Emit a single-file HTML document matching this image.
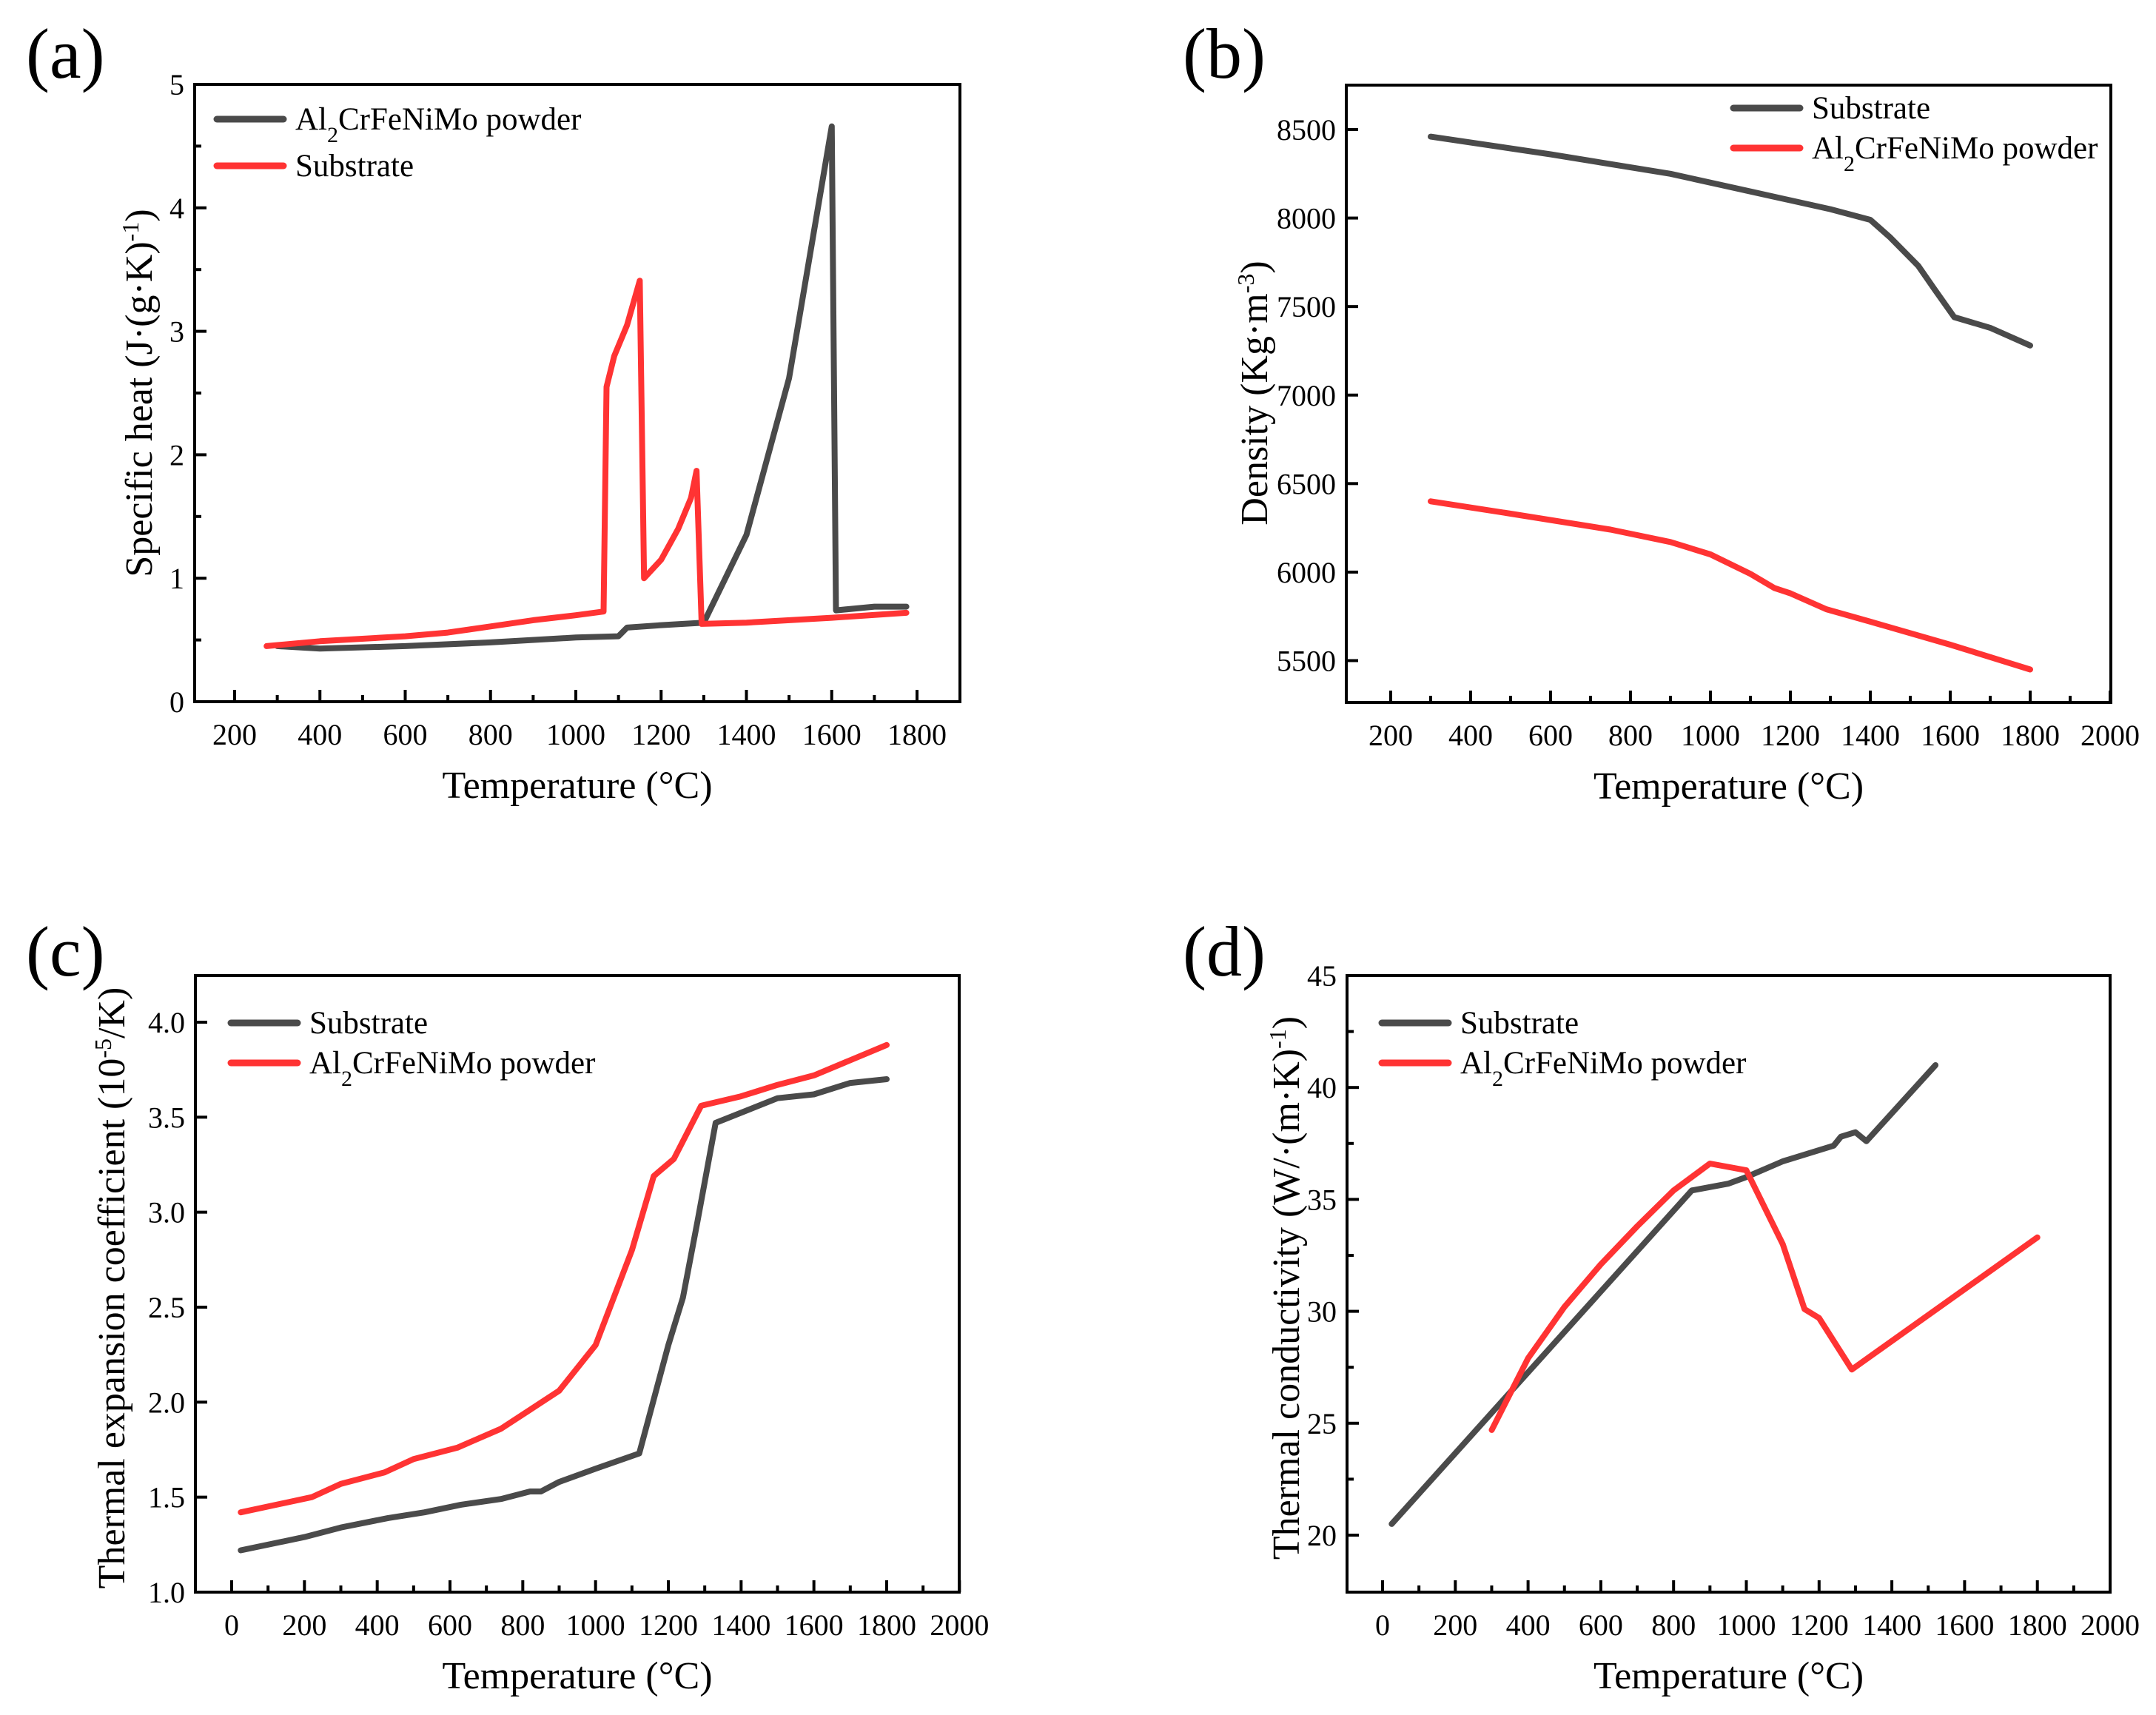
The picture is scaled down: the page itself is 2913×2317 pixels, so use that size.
<!DOCTYPE html>
<html><head><meta charset="utf-8"><style>
html,body{margin:0;padding:0;background:#fff;}
svg{display:block;font-family:"Liberation Serif",serif;}
</style></head><body>
<svg id="fig" width="2913" height="2317" viewBox="0 0 2913 2317" xmlns="http://www.w3.org/2000/svg"></svg>
<script>
// ---- data ----
const aPowderT=[300,400,600,800,1000,1100,1120,1200,1300,1400,1500,1600,1610,1700,1775];
const aPowderV=[0.45,0.43,0.45,0.48,0.52,0.53,0.60,0.62,0.64,1.35,2.62,4.66,0.74,0.77,0.77];
const aSubT=[275,400,600,700,800,900,1000,1065,1072,1090,1120,1150,1160,1200,1240,1270,1283,1295,1400,1600,1775];
const aSubV=[0.45,0.49,0.53,0.56,0.61,0.66,0.70,0.73,2.55,2.8,3.05,3.41,1.0,1.15,1.40,1.65,1.87,0.63,0.64,0.68,0.72];
const bSubT=[300,600,900,1100,1300,1400,1450,1520,1560,1610,1700,1800];
const bSubV=[8460,8360,8250,8150,8050,7990,7890,7730,7600,7440,7380,7280];
const bPowT=[300,500,750,900,1000,1100,1160,1200,1290,1400,1600,1800];
const bPowV=[6400,6330,6240,6170,6100,5990,5910,5880,5790,5720,5590,5450];
const cSubT=[25,200,300,430,530,630,740,820,850,900,1000,1120,1200,1240,1280,1330,1500,1600,1700,1800];
const cSubV=[1.22,1.29,1.34,1.39,1.42,1.46,1.49,1.53,1.53,1.58,1.65,1.73,2.3,2.55,2.95,3.47,3.6,3.62,3.68,3.70];
const cPowT=[25,220,300,420,500,620,740,820,900,1000,1100,1160,1215,1290,1400,1500,1600,1800];
const cPowV=[1.42,1.50,1.57,1.63,1.70,1.76,1.86,1.96,2.06,2.30,2.80,3.19,3.28,3.56,3.61,3.67,3.72,3.88];
const dSubT=[25,850,950,1000,1100,1240,1260,1300,1330,1520];
const dSubV=[20.5,35.4,35.7,36.0,36.7,37.4,37.8,38.0,37.6,41.0];
const dPowT=[300,400,500,600,700,800,900,1000,1100,1160,1200,1290,1800];
const dPowV=[24.7,27.9,30.2,32.1,33.8,35.4,36.6,36.3,33.0,30.1,29.7,27.4,33.3];
const aXTicks=[200,400,600,800,1000,1200,1400,1600,1800];
const aYTicks=[0,1,2,3,4,5];
const bXTicks=[200,400,600,800,1000,1200,1400,1600,1800,2000];
const bYTicks=[5500,6000,6500,7000,7500,8000,8500];
const cXTicks=[0,200,400,600,800,1000,1200,1400,1600,1800,2000];
const cYTicks=[1.0,1.5,2.0,2.5,3.0,3.5,4.0];
const dXTicks=[0,200,400,600,800,1000,1200,1400,1600,1800,2000];
const dYTicks=[20,25,30,35,40,45];

const NS="http://www.w3.org/2000/svg";
const svg=document.getElementById('fig');
function mk(tag,attrs,parent){const e=document.createElementNS(NS,tag);for(const k in attrs)e.setAttribute(k,attrs[k]);(parent||svg).appendChild(e);return e;}
const GRAY="#4a4a4a",RED="#ff3333";

function panel(o){
  const g=mk('g',{});
  
  
  const X=v=>o.x0+(v-o.xv0)*o.xs;
  const Y=v=>o.y0-(v-o.yv0)*o.ys;
  o.series.forEach(s=>{
    const p=mk('polyline',{points:s.t.map((t,i)=>X(t).toFixed(1)+','+Y(s.v[i]).toFixed(1)).join(' '),fill:'none',stroke:s.c,'stroke-width':8,'stroke-linejoin':'round','stroke-linecap':'round'},g);
    
    
  });
  const fr=mk('rect',{x:o.L,y:o.T,width:o.R-o.L,height:o.B-o.T,fill:'none',stroke:'#000','stroke-width':4},g);
  
  
  o.xt.forEach((v,i)=>{
    const x=X(v);
    mk('line',{x1:x,x2:x,y1:o.B,y2:o.B-16,stroke:'#000','stroke-width':4},g);
    if(i<o.xt.length-1){const xm=X(v+(o.xt[1]-o.xt[0])/2);if(xm<o.R-3)mk('line',{x1:xm,x2:xm,y1:o.B,y2:o.B-9,stroke:'#000','stroke-width':4},g);}
    const t=mk('text',{x:x,y:o.B+58,'font-size':40,'text-anchor':'middle'},g);t.textContent=String(v);
    
    
  });
  o.yt.forEach((v,i)=>{
    const y=Y(v);
    mk('line',{x1:o.L,x2:o.L+16,y1:y,y2:y,stroke:'#000','stroke-width':4},g);
    if(o.yminor&&i<o.yt.length-1){const ym=Y(v+(o.yt[1]-o.yt[0])/2);mk('line',{x1:o.L,x2:o.L+9,y1:ym,y2:ym,stroke:'#000','stroke-width':4},g);}
    const t=mk('text',{x:o.L-14,y:y+14,'font-size':40,'text-anchor':'end'},g);t.textContent=o.yfmt?o.yfmt(v):String(v);
    
    
  });
  const xt=mk('text',{x:(o.L+o.R)/2,y:o.B+130,'font-size':52,'text-anchor':'middle'},g);
  xt.textContent='Temperature (°C)';
  
  
  const yt=mk('text',{x:0,y:0,'font-size':52,'text-anchor':'middle',transform:`translate(${o.ytx},${o.yty}) rotate(-90)`},g);
  yt.innerHTML=o.ytitle;
  
  
  const pl=mk('text',{x:o.plx,y:o.ply,'font-size':96},g);pl.textContent='('+o.id+')';
  
  
  o.legend.forEach((l,i)=>{
    const y=o.ly+i*o.lgap;
    const ln=mk('line',{x1:o.lx,x2:o.lx+90,y1:y,y2:y,stroke:l.c,'stroke-width':9,'stroke-linecap':'round'},g);
    
    
    const t=mk('text',{x:o.lx+106,y:y+14,'font-size':43},g);t.innerHTML=l.label;
    
    
  });
}
const POW='Al<tspan baseline-shift="sub" font-size="30">2</tspan>CrFeNiMo powder';
panel({id:'a',L:263,R:1297,T:114,B:948,x0:317,xv0:200,xs:(1239-317)/1600,y0:948,yv0:0,ys:(948-114)/5,
  xt:aXTicks,yt:aYTicks,yminor:true,
  series:[{t:aPowderT,v:aPowderV,c:GRAY,name:'powder-specific-heat-line'},{t:aSubT,v:aSubV,c:RED,name:'substrate-specific-heat-line'}],
  ytitle:'Specific heat (J·(g·K)<tspan baseline-shift="super" font-size="32">-1</tspan>)',ytx:205,yty:531,plx:35,ply:105,
  legend:[{c:GRAY,label:POW},{c:RED,label:'Substrate'}],lx:293,ly:161,lgap:63});
panel({id:'b',L:1819,R:2852,T:115,B:949,x0:2743,xv0:1800,xs:0.54,y0:175,yv0:8500,ys:(892.5-175)/3000,
  xt:bXTicks,yt:bYTicks,yminor:false,
  series:[{t:bSubT,v:bSubV,c:GRAY,name:'substrate-density-line'},{t:bPowT,v:bPowV,c:RED,name:'powder-density-line'}],
  ytitle:'Density (Kg·m<tspan baseline-shift="super" font-size="32">-3</tspan>)',ytx:1712,yty:531,plx:1598,ply:105,
  legend:[{c:GRAY,label:'Substrate'},{c:RED,label:POW}],lx:2342,ly:146,lgap:54});
panel({id:'c',L:264,R:1296,T:1318,B:2151,x0:313,xv0:0,xs:(1198-313)/1800,y0:2151,yv0:1.0,ys:(2151-1381)/3,
  xt:cXTicks,yt:cYTicks,yminor:false,yfmt:v=>v.toFixed(1),
  series:[{t:cSubT,v:cSubV,c:GRAY,name:'substrate-expansion-line'},{t:cPowT,v:cPowV,c:RED,name:'powder-expansion-line'}],
  ytitle:'Thermal expansion coefficient (10<tspan baseline-shift="super" font-size="32">-5</tspan>/K)',ytx:168,yty:1740,plx:35,ply:1318,
  legend:[{c:GRAY,label:'Substrate'},{c:RED,label:POW}],lx:312,ly:1382,lgap:54});
panel({id:'d',L:1820,R:2851,T:1318,B:2151,x0:1868,xv0:0,xs:(2851-1868)/2000,y0:2074,yv0:20,ys:(2074-1318)/25,
  xt:dXTicks,yt:dYTicks,yminor:true,
  series:[{t:dSubT,v:dSubV,c:GRAY,name:'substrate-conductivity-line'},{t:dPowT,v:dPowV,c:RED,name:'powder-conductivity-line'}],
  ytitle:'Thermal conductivity (W/·(m·K)<tspan baseline-shift="super" font-size="32">-1</tspan>)',ytx:1755,yty:1740,plx:1598,ply:1318,
  legend:[{c:GRAY,label:'Substrate'},{c:RED,label:POW}],lx:1867,ly:1382,lgap:54});
</script>
</body></html>
